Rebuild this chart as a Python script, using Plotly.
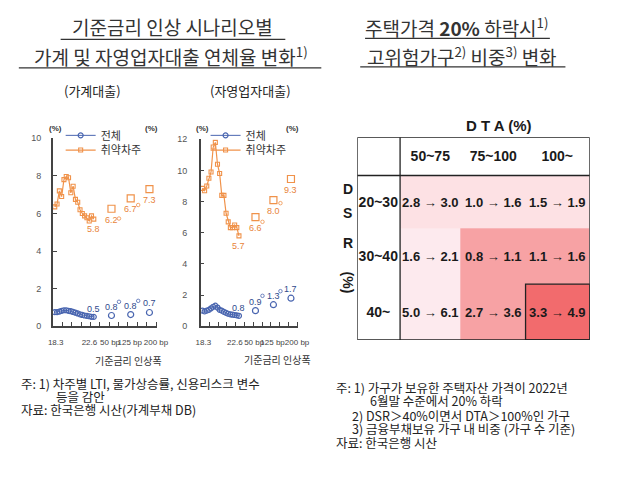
import plotly.graph_objects as go

# ---------------- data ----------------
quarters = ["18.3", "18.6", "18.9", "18.12", "19.3", "19.6", "19.9", "19.12", "20.3",
            "20.6", "20.9", "20.12", "21.3", "21.6", "21.9", "21.12", "22.3", "22.6"]
scenarios = ["50 bp", "125 bp", "200 bp"]

# household loans (가계대출)
hh_vul_hist = [6.35, 6.5, 7.2, 6.9, 7.8, 7.97, 7.9, 7.1, 7.45, 6.75, 6.6, 6.2, 6.0, 5.87, 5.77, 5.6, 5.87, 5.7]
hh_all_hist = [0.75, 0.75, 0.78, 0.82, 0.85, 0.85, 0.82, 0.8, 0.76, 0.72, 0.68, 0.63, 0.6, 0.57, 0.55, 0.53, 0.5, 0.5]
hh_vul_scen = [6.25, 6.8, 7.3]
hh_vul_scen_b = [5.73, 6.45, 6.8]
hh_vul_lbl = ["6.2", "6.7", "7.3"]
hh_all_scen = [0.57, 0.62, 0.73]
hh_all_scen_b = [1.3, 1.35, 1.35]
hh_all_lbl = ["0.8", "0.8", "0.7"]
hh_end_lbl = ["5.8", "0.5"]

# self-employed loans (자영업자대출)
sb_vul_hist = [8.85, 8.7, 9.0, 9.5, 9.9, 11.5, 11.8, 10.4, 9.8, 8.4, 8.4, 7.25, 6.7, 6.33, 6.33, 6.5, 6.33, 5.8]
sb_all_hist = [1.0, 0.95, 1.0, 1.05, 1.15, 1.25, 1.32, 1.2, 1.05, 1.0, 0.92, 0.86, 0.8, 0.76, 0.74, 0.72, 0.7, 0.67]
sb_vul_scen = [7.0, 8.1, 9.45]
sb_vul_scen_b = [6.7, 7.9, 9.05]
sb_vul_lbl = ["6.6", "8.0", "9.3"]
sb_all_scen = [1.0, 1.38, 1.8]
sb_all_scen_b = [1.95, 2.25, 2.65]
sb_all_lbl = ["0.9", "1.3", "1.7"]
sb_end_lbl = ["5.7", "0.8"]

# table (고위험가구 비중)
dta_bins = ["50~75", "75~100", "100~"]
dsr_bins = ["20~30", "30~40", "40~"]
share_before = [[2.8, 1.0, 1.5], [1.6, 0.8, 1.1], [5.0, 2.7, 3.3]]
share_after = [[3.0, 1.6, 1.9], [2.1, 1.1, 1.6], [6.1, 3.6, 4.9]]
shade_level = [[1, 1, 1], [2, 3, 3], [2, 3, 4]]

# ---------------- style ----------------
OFF = 8                      # page offset of the figure inside the window
W, H = 628 - OFF, 480 - OFF  # figure size
KR = "Noto Sans CJK KR"
NUM = "Liberation Sans"
TBL = "Liberation Sans"
ORANGE = "#F0924A"
ORANGE_T = "#E8843A"
BLUE = "#4A66B0"
BLUE_T = "#2F4A8C"
AX = "#444444"


def PX(x):
    return (x - OFF) / W


def PY(y):
    return 1 - (y - OFF) / H


fig = go.Figure()

hist_x = [0.2 + 0.245 * i for i in range(len(quarters))]
scen_x = [6.25, 8.3, 10.3]
scen_xb = [v + 0.8 for v in scen_x]
tickvals = [0.3, 3.9, 6.1, 8.2, 11.0]
ticktext = [quarters[0], quarters[-1]] + scenarios


def add_panel(xa, ya, legs, vul_h, all_h, vul_s, vul_sb, all_s, all_sb):
    fig.add_trace(go.Scatter(x=hist_x, y=all_h, xaxis=xa, yaxis=ya, mode="lines+markers", name="전체",
                             legend=legs[0], line=dict(color=BLUE, width=1),
                             marker=dict(symbol="circle-open", size=5, color=BLUE, line=dict(width=1.2))))
    fig.add_trace(go.Scatter(x=hist_x, y=vul_h, xaxis=xa, yaxis=ya, mode="lines+markers", name="취약차주",
                             legend=legs[1], line=dict(color=ORANGE, width=1.2),
                             marker=dict(symbol="square-open", size=4, color=ORANGE, line=dict(width=1.1))))
    fig.add_trace(go.Scatter(x=scen_x, y=vul_s, xaxis=xa, yaxis=ya, mode="markers", showlegend=False,
                             marker=dict(symbol="square-open", size=7, color=ORANGE, line=dict(width=1.2))))
    fig.add_trace(go.Scatter(x=scen_xb, y=vul_sb, xaxis=xa, yaxis=ya, mode="markers", showlegend=False,
                             cliponaxis=False,
                             marker=dict(symbol="circle-open", size=3.5, color=ORANGE, line=dict(width=0.8))))
    fig.add_trace(go.Scatter(x=scen_x, y=all_s, xaxis=xa, yaxis=ya, mode="markers", showlegend=False,
                             marker=dict(symbol="circle-open", size=6, color=BLUE, line=dict(width=1.2))))
    fig.add_trace(go.Scatter(x=scen_xb, y=all_sb, xaxis=xa, yaxis=ya, mode="markers", showlegend=False,
                             cliponaxis=False,
                             marker=dict(symbol="circle-open", size=3.5, color=BLUE, line=dict(width=0.8))))


add_panel("x", "y", ("legend", "legend2"), hh_vul_hist, hh_all_hist, hh_vul_scen, hh_vul_scen_b,
          hh_all_scen, hh_all_scen_b)
add_panel("x2", "y3", ("legend3", "legend4"), sb_vul_hist, sb_all_hist, sb_vul_scen, sb_vul_scen_b,
          sb_all_scen, sb_all_scen_b)


def value_labels(xref, yref, vul_s, vul_l, all_s, all_l, vul_end, all_end, end_l):
    for xv, yv, t in zip(scen_x, vul_s, vul_l):
        fig.add_annotation(x=xv, y=yv, xref=xref, yref=yref, text=t, showarrow=False, yshift=-11,
                           font=dict(size=9, color=ORANGE_T, family=NUM))
    for xv, yv, t in zip(scen_x, all_s, all_l):
        fig.add_annotation(x=xv, y=yv, xref=xref, yref=yref, text=t, showarrow=False, yshift=9,
                           font=dict(size=9, color=BLUE_T, family=NUM))
    fig.add_annotation(x=hist_x[-1], y=vul_end, xref=xref, yref=yref, text=end_l[0], showarrow=False,
                       yshift=-10, font=dict(size=9, color=ORANGE_T, family=NUM))
    fig.add_annotation(x=hist_x[-1], y=all_end, xref=xref, yref=yref, text=end_l[1], showarrow=False,
                       yshift=8, font=dict(size=9, color=BLUE_T, family=NUM))


value_labels("x", "y", hh_vul_scen, hh_vul_lbl, hh_all_scen, hh_all_lbl, hh_vul_hist[-1], hh_all_hist[-1], hh_end_lbl)
value_labels("x2", "y3", sb_vul_scen, sb_vul_lbl, sb_all_scen, sb_all_lbl, sb_vul_hist[-1], sb_all_hist[-1], sb_end_lbl)

# ---------------- table heatmap ----------------
col_edges = [0, 44, 106, 173, 239]
row_edges = [0, 39, 93, 150, 207]
z = [[0, 0, 0, 0]] + [[0] + row for row in shade_level]
BIG = '<span style="font-size:14px"><b>{}</b></span>'
text = [[" "] + [BIG.format(d) for d in dta_bins]]
for i, r in enumerate(dsr_bins):
    text.append([BIG.format(r)] + [f"<b>{a:.1f} → {b:.1f}</b>" for a, b in zip(share_before[i], share_after[i])])

fig.add_trace(go.Heatmap(x=col_edges, y=row_edges, z=z, text=text, texttemplate="%{text}",
                         xaxis="x3", yaxis="y5", zmin=0, zmax=4, showscale=False, hoverinfo="skip",
                         colorscale=[[0, "#FFFFFF"], [0.25, "#FDE1E4"], [0.5, "#FDEAEE"],
                                     [0.75, "#F7A2A4"], [1, "#F26B6D"]],
                         textfont=dict(family=TBL, size=13, color="#1A1A1A")))

line_k = dict(color="#222222", width=1.3)
fig.add_shape(type="rect", xref="x3", yref="y5", x0=0, x1=239, y0=0, y1=207, line=line_k)
fig.add_shape(type="line", xref="x3", yref="y5", x0=44, x1=44, y0=0, y1=207, line=line_k)
fig.add_shape(type="line", xref="x3", yref="y5", x0=0, x1=239, y0=39, y1=39, line=line_k)
fig.add_shape(type="rect", xref="x3", yref="y5", x0=173, x1=239, y0=150, y1=207, line=line_k)

# ---------------- axes ----------------
yaxis_common = dict(showline=True, linecolor=AX, linewidth=1.5, ticks="inside", ticklen=4, tickcolor=AX,
                    showgrid=False, zeroline=False, tickfont=dict(size=9, color="#555", family=NUM))
xaxis_common = dict(showline=True, linecolor=AX, linewidth=1.5, showgrid=False, zeroline=False,
                    tickvals=tickvals, ticktext=ticktext, ticks="", range=[0, 11.1], tickangle=0,
                    ticklabelstandoff=7,
                    tickfont=dict(size=8, color="#444", family=NUM),
                    minor=dict(ticks="inside", tick0=0, dtick=1, ticklen=4, tickcolor=AX, showgrid=False))


def leg(x, y):
    return dict(x=PX(x), y=PY(y), xanchor="left", yanchor="middle", bgcolor="rgba(0,0,0,0)",
                font=dict(size=11, color="#333", family=KR), itemwidth=30, borderwidth=0)


fig.update_layout(
    width=W, height=H, margin=dict(l=0, r=0, t=0, b=0),
    paper_bgcolor="white", plot_bgcolor="rgba(0,0,0,0)",
    xaxis=dict(domain=[PX(49), PX(156)], anchor="y", **xaxis_common),
    yaxis=dict(domain=[PY(328), PY(136)], anchor="x", range=[0, 10], dtick=2, ticklabelstandoff=8,
               **yaxis_common),
    yaxis2=dict(overlaying="y", side="right", anchor="x", range=[0, 10], dtick=2, ticklabelstandoff=3,
                **yaxis_common),
    xaxis2=dict(domain=[PX(201), PX(301)], anchor="y3", **xaxis_common),
    yaxis3=dict(domain=[PY(328), PY(137)], anchor="x2", range=[0, 12], dtick=2, ticklabelstandoff=10,
                **yaxis_common),
    yaxis4=dict(overlaying="y3", side="right", anchor="x2", range=[0, 12], dtick=2, ticklabelstandoff=4,
                **yaxis_common),
    xaxis3=dict(domain=[PX(362), PX(601)], anchor="y5", range=[0, 239], visible=False),
    yaxis5=dict(domain=[PY(342), PY(135)], anchor="x3", range=[207, 0], visible=False),
    legend=leg(57, 133),
    legend2=leg(57, 148),
    legend3=leg(206, 133),
    legend4=leg(206, 148),
)


# ---------------- texts ----------------
def note(text, x, y, size=12, xanchor="center", color="#222", family=KR, **kw):
    fig.add_annotation(text=text, x=PX(x), y=PY(y), xref="paper", yref="paper", xanchor=xanchor,
                       yanchor="middle", showarrow=False, font=dict(size=size, color=color, family=family),
                       **kw)


def uline(x0, x1, y):
    fig.add_shape(type="line", xref="paper", yref="paper", x0=PX(x0), x1=PX(x1), y0=PY(y), y1=PY(y),
                  line=dict(color="#333", width=1.3))


note("기준금리 인상 시나리오별", 172, 22, size=19, color="#333")
note("가계 및 자영업자대출 연체율 변화<sup>1)</sup>", 170, 52, size=19, color="#333")
uline(57, 288, 35)
uline(14, 325, 64)
note("주택가격 <b>20%</b> 하락시<sup>1)</sup>", 464, 22, size=19, color="#333")
note("고위험가구<sup>2)</sup> 비중<sup>3)</sup> 변화", 470, 52, size=19, color="#333")
uline(370, 560, 34)
uline(365, 576, 63)

note("(가계대출)", 90, 87, size=13)
note("(자영업자대출)", 252, 87, size=13)

for x in (52, 150, 203, 295):
    note("<b>(%)</b>", x, 126, size=8, family=NUM, color="#333")

note("기준금리 인상폭", 127, 363, size=10, color="#333")
note("기준금리 인상폭", 280, 362, size=10, color="#333")

note("<b>D T A (%)</b>", 508, 123, size=15, family=TBL, color="#1A1A1A")
note("<b>D</b>", 352, 188, size=14, family=TBL, color="#1A1A1A")
note("<b>S</b>", 352, 212, size=14, family=TBL, color="#1A1A1A")
note("<b>R</b>", 352, 243, size=14, family=TBL, color="#1A1A1A")
note("<b>(%)</b>", 352, 283, size=14, family=TBL, color="#1A1A1A", textangle=90)

note("주: 1) 차주별 LTI, 물가상승률, 신용리스크 변수", 14, 387, size=12.5, xanchor="left")
note("등을 감안", 50, 400, size=12.5, xanchor="left")
note("자료: 한국은행 시산(가계부채 DB)", 14, 413, size=12.5, xanchor="left")

note("주: 1) 가구가 보유한 주택자산 가격이 2022년", 338, 391, size=12.5, xanchor="left")
note("6월말 수준에서 20% 하락", 373, 404, size=12.5, xanchor="left")
note("2) DSR＞40%이면서 DTA＞100%인 가구", 355, 419, size=12.5, xanchor="left")
note("3) 금융부채보유 가구 내 비중 (가구 수 기준)", 355, 433, size=12.5, xanchor="left")
note("자료: 한국은행 시산", 338, 447, size=12.5, xanchor="left")

fig.write_html("out.html")
